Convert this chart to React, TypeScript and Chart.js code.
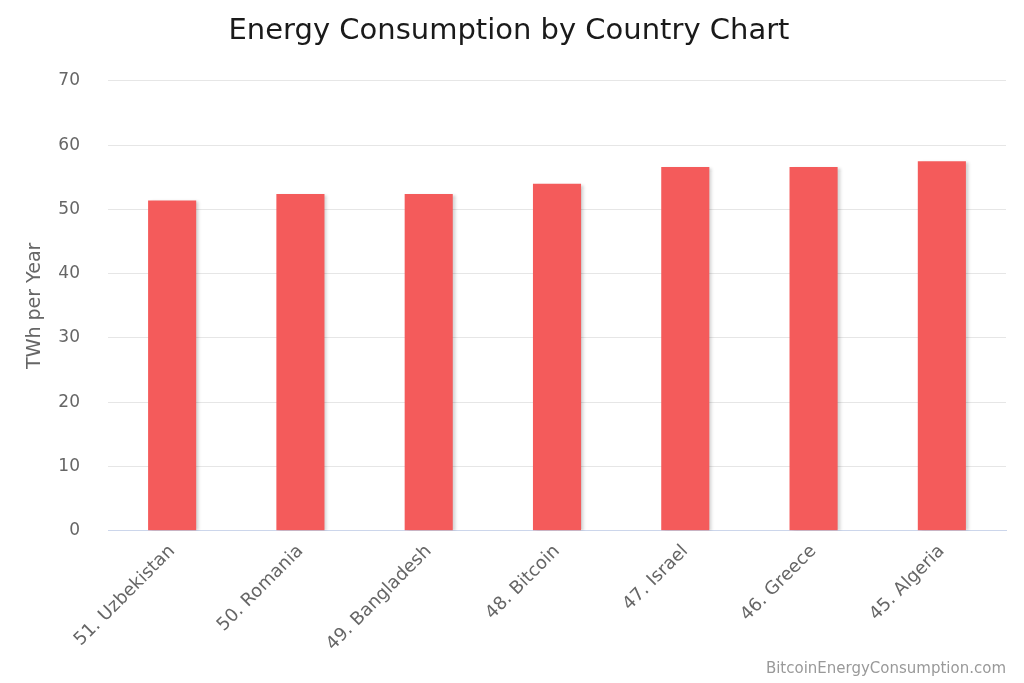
import React, { useEffect, useRef } from "react";
import { Chart, registerables } from "chart.js";

Chart.register(...registerables);

const categories = [
  "51. Uzbekistan",
  "50. Romania",
  "49. Bangladesh",
  "48. Bitcoin",
  "47. Israel",
  "46. Greece",
  "45. Algeria",
];
const values = [51.4, 52.4, 52.4, 54.0, 56.6, 56.6, 57.5];
const chartTitle = "Energy Consumption by Country Chart";
const yAxisTitle = "TWh per Year";
const creditText = "BitcoinEnergyConsumption.com";

const FONT = "'DejaVu Sans', sans-serif";

const shadowPlugin = {
  id: "barShadow",
  beforeDatasetsDraw(chart: any) {
    const ctx = chart.ctx;
    ctx.save();
    ctx.shadowColor = "rgba(0,0,0,0.18)";
    ctx.shadowOffsetX = 3;
    ctx.shadowOffsetY = 1;
    ctx.shadowBlur = 3;
  },
  afterDatasetsDraw(chart: any) {
    chart.ctx.restore();
  },
};

const creditPlugin = {
  id: "credit",
  afterDraw(chart: any) {
    const ctx = chart.ctx;
    ctx.save();
    ctx.font = `15px ${FONT}`;
    ctx.fillStyle = "#999999";
    ctx.textAlign = "right";
    ctx.textBaseline = "alphabetic";
    ctx.fillText(creditText, chart.width - 18, chart.height - 10);
    ctx.restore();
  },
};

export default function App() {
  const ref = useRef<HTMLCanvasElement>(null);
  useEffect(() => {
    if (!ref.current) return;
    const chart = new Chart(ref.current, {
      type: "bar",
      data: {
        labels: categories,
        datasets: [
          {
            data: values,
            backgroundColor: "#f45b5b",
            borderWidth: 0,
            barPercentage: 0.375,
            categoryPercentage: 1,
          },
        ],
      },
      plugins: [shadowPlugin, creditPlugin],
      options: {
        responsive: true,
        maintainAspectRatio: false,
        animation: false,
        layout: { padding: { left: 12, right: 18, top: 0, bottom: 18 } },
        plugins: {
          legend: { display: false },
          tooltip: { enabled: false },
          title: {
            display: true,
            text: chartTitle,
            color: "#1a1a1a",
            font: { family: FONT, size: 29, weight: "normal" },
            padding: { top: 14, bottom: 32 },
          },
        },
        scales: {
          x: {
            grid: { display: false, drawTicks: false },
            border: { display: true, color: "#ccd6eb", width: 1 },
            ticks: {
              color: "#666666",
              font: { family: FONT, size: 18 },
              minRotation: 45,
              maxRotation: 45,
              padding: 10,
            },
          },
          y: {
            min: 0,
            max: 70,
            afterFit: (scale: any) => {
              scale.width = 96;
            },
            grid: { color: "#e6e6e6", drawTicks: false },
            border: { display: false },
            ticks: {
              stepSize: 10,
              color: "#666666",
              font: { family: FONT, size: 17 },
              padding: 28,
            },
            title: {
              display: true,
              text: yAxisTitle,
              color: "#666666",
              font: { family: FONT, size: 19 },
              padding: { top: 12, bottom: 0 },
            },
          },
        },
      },
    });
    return () => chart.destroy();
  }, []);
  return (
    <div style={{ position: "fixed", left: 0, top: 0, width: 1024, height: 683 }}>
      <canvas ref={ref} />
    </div>
  );
}
